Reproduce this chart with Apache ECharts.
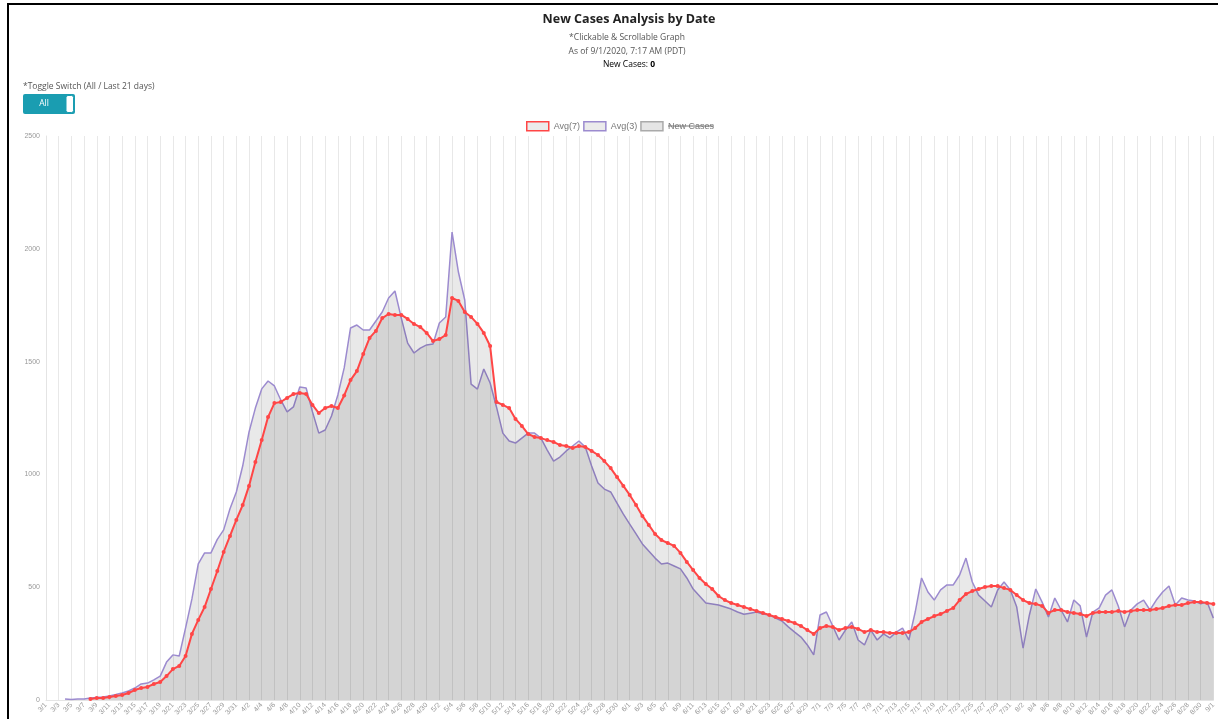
<!DOCTYPE html>
<html>
<head>
<meta charset="utf-8">
<script src="https://cdn.jsdelivr.net/npm/echarts@6/dist/echarts.min.js"></script>
<style>
  html, body { margin: 0; padding: 0; background: #fff; }
  #frame { position: absolute; left: 7px; top: 3px; width: 1211px; height: 716px; border-top: 2px solid #000; border-left: 2px solid #000; box-sizing: border-box; pointer-events: none; }
  #chart { position: absolute; left: 0; top: 0; width: 1218px; height: 719px; }
</style>
</head>
<body>
<div id="chart"></div>
<div id="frame"></div>
<script>
// ---- categories (dates, 2020) ----
const dates = [
 "3/1","3/2","3/3","3/4","3/5","3/6","3/7","3/8","3/9","3/10","3/11","3/12","3/13","3/14","3/15","3/16","3/17","3/18","3/19","3/20","3/21","3/22","3/23","3/24","3/25","3/26","3/27","3/28","3/29","3/30","3/31",
 "4/1","4/2","4/3","4/4","4/5","4/6","4/7","4/8","4/9","4/10","4/11","4/12","4/13","4/14","4/15","4/16","4/17","4/18","4/19","4/20","4/21","4/22","4/23","4/24","4/25","4/26","4/27","4/28","4/29","4/30",
 "5/1","5/2","5/3","5/4","5/5","5/6","5/7","5/8","5/9","5/10","5/11","5/12","5/13","5/14","5/15","5/16","5/17","5/18","5/19","5/20","5/21","5/22","5/23","5/24","5/25","5/26","5/27","5/28","5/29","5/30","5/31",
 "6/1","6/2","6/3","6/4","6/5","6/6","6/7","6/8","6/9","6/10","6/11","6/12","6/13","6/14","6/15","6/16","6/17","6/18","6/19","6/20","6/21","6/22","6/23","6/24","6/25","6/26","6/27","6/28","6/29","6/30",
 "7/1","7/2","7/3","7/4","7/5","7/6","7/7","7/8","7/9","7/10","7/11","7/12","7/13","7/14","7/15","7/16","7/17","7/18","7/19","7/20","7/21","7/22","7/23","7/24","7/25","7/26","7/27","7/28","7/29","7/30","7/31",
 "8/1","8/2","8/3","8/4","8/5","8/6","8/7","8/8","8/9","8/10","8/11","8/12","8/13","8/14","8/15","8/16","8/17","8/18","8/19","8/20","8/21","8/22","8/23","8/24","8/25","8/26","8/27","8/28","8/29","8/30","8/31",
 "9/1"
];

// ---- Avg(7) ----
const avg7 = [
 null,null,null,null,null,null,null,4,9,9,13,18,22,31,44,53,58,71,80,106,137,151,195,293,355,412,492,572,656,727,798,
 864,949,1055,1152,1254,1316,1321,1339,1356,1361,1356,1308,1272,1294,1303,1294,1350,1418,1458,1534,1605,1636,1693,1711,1707,1707,1689,1667,1653,1627,
 1591,1600,1618,1782,1769,1720,1698,1667,1627,1569,1321,1308,1294,1246,1215,1179,1166,1161,1152,1144,1130,1126,1117,1126,1121,1104,1086,1059,1028,988,949,
 909,864,816,776,736,709,696,683,652,612,576,541,514,492,461,443,430,421,412,403,395,386,377,368,359,350,341,328,310,293,
 319,328,324,310,319,324,315,301,310,301,301,297,297,297,301,319,346,359,372,381,395,408,443,470,483,492,501,505,505,496,488,
 465,443,430,426,417,386,399,399,390,386,381,372,386,390,390,390,395,390,395,399,399,399,403,408,417,421,421,430,434,434,430,
 426
];

// ---- Avg(3) ----
const avg3 = [
 null,null,null,4,2,4,4,9,11,13,18,24,31,40,53,71,75,89,106,168,200,195,320,448,603,652,652,712,754,848,922,
 1037,1188,1294,1379,1414,1392,1330,1277,1299,1387,1383,1277,1183,1197,1259,1352,1472,1649,1662,1640,1640,1680,1720,1782,1813,1693,1582,1538,1560,1574,
 1578,1671,1698,2074,1897,1773,1400,1378,1467,1405,1299,1183,1148,1139,1161,1183,1183,1161,1108,1059,1077,1104,1126,1148,1121,1037,962,935,922,873,824,
 780,736,692,660,629,603,607,594,581,541,492,461,430,426,421,412,403,390,380,385,390,381,377,363,350,324,301,279,244,200,
 377,390,328,266,310,346,266,244,310,266,293,275,301,319,266,390,541,479,443,488,510,510,554,629,523,465,439,412,488,523,488,
 412,230,377,492,434,368,452,399,346,443,417,279,390,408,465,488,417,324,399,426,443,399,443,479,505,421,452,443,439,426,434,
 363
];

// ---- New Cases (series switched off in the reference; no values shown) ----
const newCases = [];

// ---- axis ticks ----
const yTicks = [0, 500, 1000, 1500, 2000, 2500];

const RED = '#ff4646';
const PURPLE = '#9c8bcf';
const FILL = 'rgba(0,0,0,0.12)';
const UI_FONT = '"Open Sans", "Noto Sans", sans-serif';

const chart = echarts.init(document.getElementById('chart'), null, { renderer: 'canvas' });

chart.setOption({
  animation: false,
  backgroundColor: '#fff',
  textStyle: { fontFamily: 'Liberation Sans, Arial, sans-serif' },
  grid: { left: 46, right: 4, top: 136, bottom: 19, containLabel: false },
  legend: {
    left: 526, top: 121, padding: 0,
    itemWidth: 22, itemHeight: 9, itemGap: 3,
    icon: 'rect',
    selectedMode: false,
    textStyle: { fontSize: 9, color: '#777', fontFamily: 'Liberation Sans, Arial, sans-serif' },
    data: [
      { name: 'Avg(7)', itemStyle: { color: 'rgba(0,0,0,0.08)', borderColor: RED, borderWidth: 1.5 } },
      { name: 'Avg(3)', itemStyle: { color: 'rgba(0,0,0,0.08)', borderColor: PURPLE, borderWidth: 1.5 } },
      { name: 'New Cases', itemStyle: { color: 'rgba(0,0,0,0.1)', borderColor: '#aaa', borderWidth: 1.5 } }
    ]
  },
  xAxis: {
    type: 'category',
    data: dates,
    boundaryGap: false,
    axisLine: { show: true, lineStyle: { color: '#e4e4e4' } },
    axisTick: { show: false },
    axisLabel: { interval: 1, rotate: 45, fontSize: 7, color: '#999', margin: 4 },
    splitLine: { show: true, interval: 1, lineStyle: { color: '#e8e8e8', width: 1 } }
  },
  yAxis: {
    type: 'value',
    min: 0, max: 2500, interval: 500,
    axisLine: { show: true, lineStyle: { color: '#e4e4e4' } },
    axisTick: { show: false },
    axisLabel: { fontSize: 7, color: '#999', margin: 6,
      formatter: function (v) { return yTicks.indexOf(v) >= 0 ? String(v) : ''; } },
    splitLine: { show: false }
  },
  series: [
    {
      name: 'New Cases', type: 'line', data: newCases,
      itemStyle: { color: '#999' }, showSymbol: false
    },
    {
      name: 'Avg(3)', type: 'line', data: avg3,
      showSymbol: false, smooth: false,
      lineStyle: { color: PURPLE, width: 1.5 },
      itemStyle: { color: PURPLE },
      areaStyle: { color: FILL, origin: 'start' },
      z: 2
    },
    {
      name: 'Avg(7)', type: 'line', data: avg7,
      showSymbol: true, symbol: 'circle', symbolSize: 4,
      lineStyle: { color: RED, width: 2 },
      itemStyle: { color: RED },
      areaStyle: { color: FILL, origin: 'start' },
      z: 3
    }
  ],
  graphic: [
    { type: 'text', x: 629, y: 19, style: { text: 'New Cases Analysis by Date', font: 'bold 12.5px ' + UI_FONT, fill: '#222', align: 'center', verticalAlign: 'middle' } },
    { type: 'text', x: 627, y: 38, style: { text: '*Clickable & Scrollable Graph', font: '8.5px ' + UI_FONT, fill: '#555', align: 'center', verticalAlign: 'middle' } },
    { type: 'text', x: 627, y: 52, style: { text: 'As of 9/1/2020, 7:17 AM (PDT)', font: '8.5px ' + UI_FONT, fill: '#555', align: 'center', verticalAlign: 'middle' } },
    { type: 'text', x: 629, y: 65, style: {
        text: '{a|New Cases: }{b|0}', align: 'center', verticalAlign: 'middle',
        rich: { a: { fontSize: 8.5, fontFamily: UI_FONT, color: '#555' }, b: { fontSize: 8.5, fontWeight: 'bold', fontFamily: UI_FONT, color: '#222' } } } },
    { type: 'text', x: 23, y: 87, style: { text: '*Toggle Switch (All / Last 21 days)', font: '8.5px ' + UI_FONT, fill: '#555', verticalAlign: 'middle' } },
    { type: 'rect', shape: { x: 23, y: 94, width: 52, height: 20, r: 2 }, style: { fill: '#1a9db1' } },
    { type: 'rect', shape: { x: 66, y: 95.5, width: 7.5, height: 17, r: 2 }, style: { fill: '#fff', stroke: '#1a9db1', lineWidth: 1 } },
    { type: 'text', x: 44, y: 104, style: { text: 'All', font: '8.5px ' + UI_FONT, fill: '#fff', align: 'center', verticalAlign: 'middle' } },
    { type: 'line', shape: { x1: 668, y1: 126, x2: 714, y2: 126 }, style: { stroke: '#777', lineWidth: 1 }, z: 100 }
  ]
});
</script>
</body>
</html>
